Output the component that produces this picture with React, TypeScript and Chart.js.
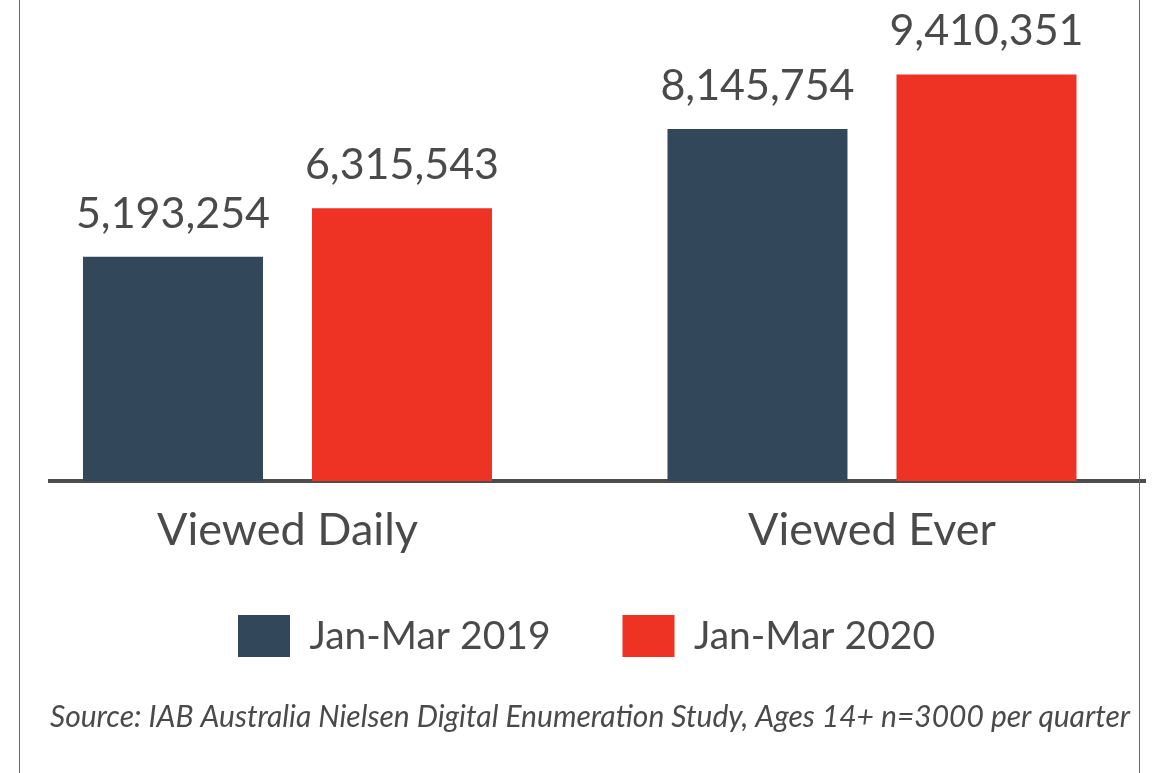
import React, { useEffect, useRef } from "react";
import { Chart, registerables } from "chart.js";

Chart.register(...registerables);

const categories = ["Viewed Daily", "Viewed Ever"];
const categoryPositions = [0, 1];
const series2019 = [5193254, 8145754];
const series2020 = [6315543, 9410351];
const seriesLabels = ["Jan-Mar 2019", "Jan-Mar 2020"];
const sourceNote = "Source: IAB Australia Nielsen Digital Enumeration Study, Ages 14+ n=3000 per quarter";

const NAVY = "#33475b";
const RED = "#ee3224";
const TEXT = "#4a4a4a";
const FONT = "Lato, 'Noto Sans', sans-serif";

const fmt = (v: number) => v.toLocaleString("en-US");

const valueLabels = {
  id: "valueLabels",
  afterDatasetsDraw(chart: any) {
    const ctx = chart.ctx;
    ctx.save();
    ctx.font = `43px ${FONT}`;
    ctx.fillStyle = TEXT;
    ctx.textAlign = "center";
    ctx.textBaseline = "alphabetic";
    chart.data.datasets.forEach((ds: any, i: number) => {
      const meta = chart.getDatasetMeta(i);
      meta.data.forEach((bar: any, j: number) => {
        const v = ds.data[j].y;
        ctx.fillText(fmt(v), bar.x, bar.y - 29);
      });
    });
    ctx.restore();
  },
};

// small layout nudge so the legend sits where the reference places it
const legendNudge = {
  id: "legendNudge",
  afterLayout(chart: any) {
    const l = chart.legend;
    if (!l) return;
    l.top -= 13;
    l.bottom -= 13;
    l.left -= 11;
    l.right -= 11;
  },
};

export default function App() {
  const ref = useRef<HTMLCanvasElement | null>(null);

  useEffect(() => {
    if (!ref.current) return;
    const chart = new Chart(ref.current, {
      type: "bar",
      data: {
        datasets: [
          {
            label: seriesLabels[0],
            data: categoryPositions.map((x, i) => ({ x, y: series2019[i] })),
            backgroundColor: NAVY,
            barPercentage: 0.786,
            categoryPercentage: 0.7836,
          },
          {
            label: seriesLabels[1],
            data: categoryPositions.map((x, i) => ({ x, y: series2020[i] })),
            backgroundColor: RED,
            barPercentage: 0.786,
            categoryPercentage: 0.7836,
          },
        ],
      },
      options: {
        animation: false,
        responsive: true,
        maintainAspectRatio: false,
        layout: { padding: { left: 42, right: 9, top: 41, bottom: 15 } },
        scales: {
          x: {
            type: "linear",
            min: -0.4063,
            max: 1.4671,
            bounds: "data",
            offset: false,
            z: 1,
            grid: { display: false, drawTicks: false },
            border: { display: true, color: "#4d4d4d", width: 4 },
            afterBuildTicks: (scale: any) => {
              scale.ticks = categoryPositions.map((v) => ({ value: v }));
            },
            afterFit: (scale: any) => {
              scale.height = 75;
            },
            ticks: {
              autoSkip: false,
              maxRotation: 0,
              padding: 22,
              color: TEXT,
              font: { family: FONT, size: 45 },
              callback: (v: any) => categories[categoryPositions.indexOf(Number(v))] ?? "",
            },
          },
          y: {
            display: false,
            min: 0,
            max: 10000000,
          },
        },
        plugins: {
          legend: {
            display: true,
            position: "bottom",
            labels: {
              boxWidth: 52,
              boxHeight: 42,
              padding: 72,
              color: TEXT,
              font: { family: FONT, size: 39 },
            },
          },
          title: {
            display: true,
            position: "bottom",
            align: "start",
            text: sourceNote,
            color: TEXT,
            font: { family: FONT, size: 30, style: "italic", weight: "normal" },
            padding: { top: 19, bottom: 15 },
          },
          tooltip: { enabled: false },
        },
      },
      plugins: [valueLabels, legendNudge],
    });
    return () => chart.destroy();
  }, []);

  return (
    <div style={{ position: "relative", width: 1146, height: 757 }}>
      <canvas ref={ref} />
      <div
        style={{
          position: "fixed",
          left: 19,
          top: 0,
          width: 1121,
          height: 773,
          boxSizing: "border-box",
          borderLeft: "1px solid #6b6b6b",
          borderRight: "1px solid #6b6b6b",
          pointerEvents: "none",
        }}
      />
    </div>
  );
}
